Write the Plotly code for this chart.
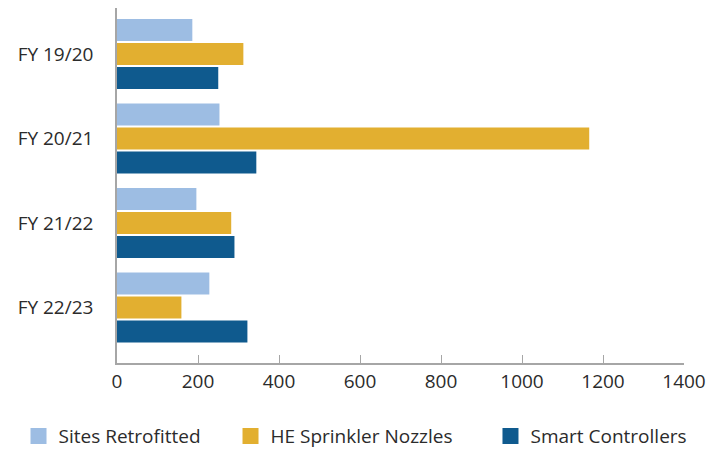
import plotly.graph_objects as go

categories = ["FY 19/20", "FY 20/21", "FY 21/22", "FY 22/23"]
sites_retrofitted = [186, 253, 196, 228]
he_sprinkler_nozzles = [312, 1166, 282, 159]
smart_controllers = [250, 344, 290, 322]
x_ticks = [0, 200, 400, 600, 800, 1000, 1200, 1400]

series = [
    ("Sites Retrofitted", sites_retrofitted, "#9dbde3"),
    ("HE Sprinkler Nozzles", he_sprinkler_nozzles, "#e2af30"),
    ("Smart Controllers", smart_controllers, "#0f5a8e"),
]
legend_x = [-0.1737, 0.2002, 0.6587]

FONT = "Open Sans"
TXT = "#2b2b2b"
FS = 19

fig = go.Figure()
for name, vals, color in series:
    fig.add_trace(go.Bar(
        y=categories, x=vals, orientation="h", name=name,
        marker=dict(color=color, line=dict(width=0)), showlegend=False,
    ))
legend_layout = {}
for i, (name, vals, color) in enumerate(series):
    lname = "legend" if i == 0 else f"legend{i+1}"
    fig.add_trace(go.Scatter(
        x=[None], y=[None], mode="markers", name=name, legend=lname,
        marker=dict(symbol="square", size=17, color=color),
    ))
    legend_layout[lname] = dict(
        orientation="h", x=legend_x[i], xanchor="left", y=-0.206, yanchor="middle",
        font=dict(family=FONT, size=FS, color=TXT), itemwidth=30,
        bgcolor="rgba(0,0,0,0)",
    )

# page body has an 8px default margin, so the figure is sized to fit the window
fig.update_layout(
    width=716, height=441,
    margin=dict(l=109, r=40, t=0, b=86, autoexpand=False),
    paper_bgcolor="white", plot_bgcolor="white",
    barmode="group", bargap=0.15, bargroupgap=0.08,
    font=dict(family=FONT, size=FS, color=TXT),
    xaxis=dict(range=[0, 1400], tickvals=x_ticks, showgrid=False, zeroline=False,
               showline=True, linecolor="#a6a6a6", linewidth=1.5,
               ticks="inside", ticklen=8, tickcolor="#a6a6a6", tickwidth=1,
               automargin=False,
               tickfont=dict(family=FONT, size=FS, color=TXT)),
    yaxis=dict(categoryorder="array", categoryarray=categories,
               range=[3.657, -0.544], showgrid=False, zeroline=False,
               showline=True, linecolor="#a6a6a6", linewidth=1.5,
               ticks="", ticklabelstandoff=18, automargin=False,
               tickfont=dict(family=FONT, size=FS, color=TXT)),
    **legend_layout,
)

fig.write_html("out.html")
